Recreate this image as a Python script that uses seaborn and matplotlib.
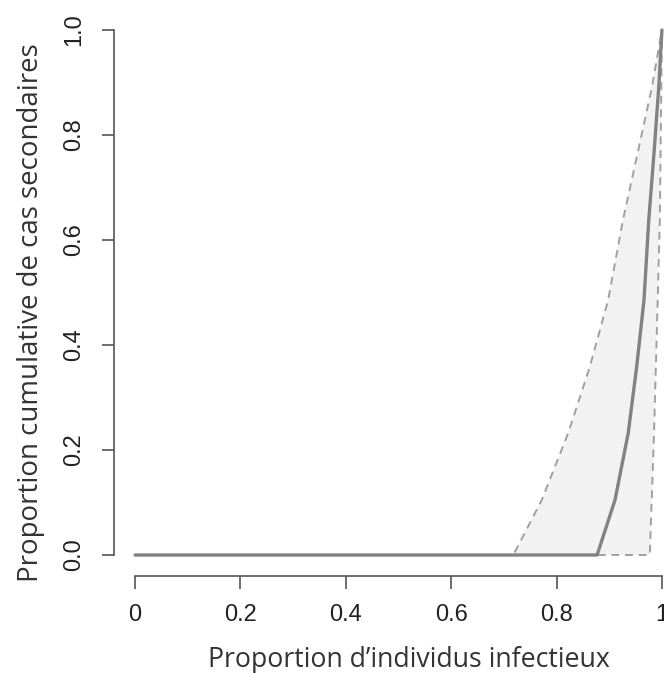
import numpy as np
import matplotlib
matplotlib.use("Agg")
import matplotlib.pyplot as plt
import seaborn as sns

# Data
x_mid = [0.0, 0.877, 0.911, 0.936, 0.952, 0.966, 0.975, 0.985, 0.994, 1.0]
y_mid = [0.0, 0.0, 0.105, 0.232, 0.358, 0.486, 0.638, 0.766, 0.891, 1.0]

x_up = [0.0, 0.718, 0.772, 0.822, 0.863, 0.898, 0.926, 0.954, 0.981, 1.0]
y_up = [0.0, 0.0, 0.105, 0.232, 0.358, 0.486, 0.638, 0.766, 0.891, 1.0]

x_lo = [0.0, 0.977, 0.985, 0.992, 0.996, 1.0]
y_lo = [0.0, 0.0, 0.232, 0.486, 0.638, 1.0]

x_ticks = [0, 0.2, 0.4, 0.6, 0.8, 1]
x_ticklabels = ["0", "0.2", "0.4", "0.6", "0.8", "1"]
y_ticks = [0.0, 0.2, 0.4, 0.6, 0.8, 1.0]
y_ticklabels = ["0.0", "0.2", "0.4", "0.6", "0.8", "1.0"]

xlabel = "Proportion d\u2019individus infectieux"
ylabel = "Proportion cumulative de cas secondaires"

sns.set_style("white")
plt.rcParams["font.family"] = ["Liberation Sans", "DejaVu Sans"]

fig = plt.figure(figsize=(6.64, 6.73), dpi=100)
ax = fig.add_axes([114 / 664, 97 / 673, 569 / 664, 567 / 673])

# shaded band between bounds
poly_x = np.concatenate([x_up, x_lo[::-1]])
poly_y = np.concatenate([y_up, y_lo[::-1]])
ax.fill(poly_x, poly_y, color="#f2f2f2", lw=0, zorder=1)

sns.lineplot(x=x_up, y=y_up, ax=ax, sort=False, estimator=None,
             color="#a0a0a0", lw=1.4, linestyle=(0, (4, 3)), zorder=2)
sns.lineplot(x=x_lo, y=y_lo, ax=ax, sort=False, estimator=None,
             color="#a0a0a0", lw=1.4, linestyle=(0, (4, 3)), zorder=2)
sns.lineplot(x=x_mid, y=y_mid, ax=ax, sort=False, estimator=None,
             color="#828282", lw=2.4, zorder=3)

ax.set_xlim(-0.04, 1.04)
ax.set_ylim(-0.04, 1.04)

for s in ["top", "right"]:
    ax.spines[s].set_visible(False)
for s in ["left", "bottom"]:
    ax.spines[s].set_color("#555555")
    ax.spines[s].set_linewidth(1.2)
ax.spines["left"].set_bounds(0, 1)
ax.spines["bottom"].set_bounds(0, 1)

ax.set_xticks(x_ticks)
ax.set_xticklabels(x_ticklabels)
ax.set_yticks(y_ticks)
ax.set_yticklabels(y_ticklabels, rotation=90, va="center")
ax.tick_params(axis="both", direction="out", length=9, width=1.2,
               bottom=True, left=True,
               color="#555555", labelsize=17, labelcolor="#222222")
ax.tick_params(axis="x", pad=11)
ax.tick_params(axis="y", pad=12)

ax.set_xlabel(xlabel, fontsize=19.2, family=["Open Sans", "DejaVu Sans"],
              color="#333333")
ax.set_ylabel(ylabel, fontsize=19.9, family=["Open Sans", "DejaVu Sans"],
              color="#333333")
ax.xaxis.set_label_coords(0.518, -0.124)
ax.yaxis.set_label_coords(-0.122, 0.464)
ax.grid(False)

fig.savefig("out.png", dpi=100)
